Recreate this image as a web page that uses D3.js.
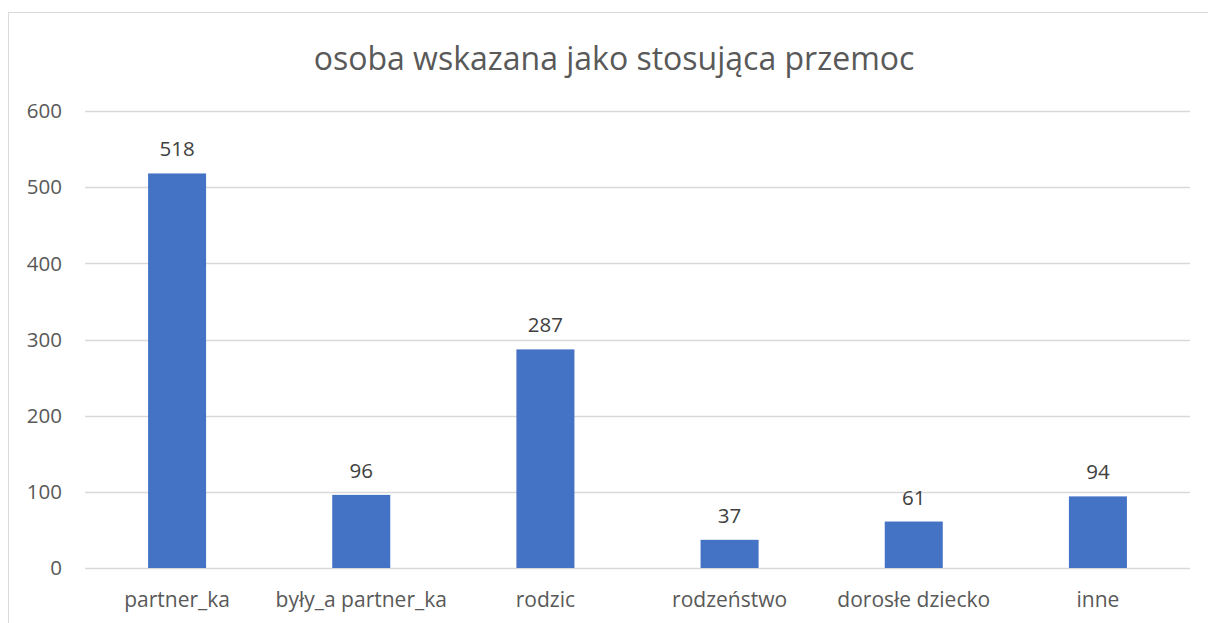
<!DOCTYPE html>
<html>
<head>
<meta charset="utf-8">
<script src="https://cdn.jsdelivr.net/npm/d3@7"></script>
<style>
  html, body { margin: 0; padding: 0; background: #fff; }
  svg { display: block; font-family: "Open Sans", "Noto Sans", sans-serif; }
</style>
</head>
<body>
<div id="chart"></div>
<script>
'use strict';

const CATEGORIES = ['partner_ka', 'były_a partner_ka', 'rodzic', 'rodzeństwo', 'dorosłe dziecko', 'inne'];
const VALUES = [518, 96, 287, 37, 61, 94];
const Y_TICKS = [0, 100, 200, 300, 400, 500, 600];
const TITLE = 'osoba wskazana jako stosująca przemoc';

const W = 1208, H = 623;
const margin = { left: 85, right: 18, top: 111, bottom: 55 };

const svg = d3.select('#chart').append('svg')
  .attr('width', W)
  .attr('height', H);

// chart frame
svg.append('rect')
  .attr('x', 8.5).attr('y', 12.5)
  .attr('width', W + 10).attr('height', H + 10)
  .attr('fill', 'none')
  .attr('stroke', '#d9d9d9')
  .attr('stroke-width', 1);

const x = d3.scaleBand()
  .domain(CATEGORIES)
  .range([margin.left, W - margin.right])
  .paddingInner(0.685)
  .paddingOuter(0.3425);

const y = d3.scaleLinear()
  .domain([0, 600])
  .range([H - margin.bottom, margin.top]);

// gridlines
svg.append('g')
  .selectAll('line')
  .data(Y_TICKS)
  .join('line')
  .attr('x1', margin.left)
  .attr('x2', W - margin.right)
  .attr('y1', d => Math.round(y(d)) + 0.5)
  .attr('y2', d => Math.round(y(d)) + 0.5)
  .attr('stroke', '#d9d9d9')
  .attr('stroke-width', 1.3);

// y tick labels
svg.append('g')
  .selectAll('text')
  .data(Y_TICKS)
  .join('text')
  .attr('x', 62)
  .attr('y', d => y(d))
  .attr('dy', '0.35em')
  .attr('text-anchor', 'end')
  .attr('fill', '#595959')
  .attr('font-size', '20.5px')
  .text(d => d);

// bars
svg.append('g')
  .selectAll('rect')
  .data(VALUES)
  .join('rect')
  .attr('x', (d, i) => x(CATEGORIES[i]))
  .attr('y', d => y(d))
  .attr('width', x.bandwidth())
  .attr('height', d => y(0) - y(d))
  .attr('fill', '#4472c4');

// data labels
svg.append('g')
  .selectAll('text')
  .data(VALUES)
  .join('text')
  .attr('x', (d, i) => x(CATEGORIES[i]) + x.bandwidth() / 2)
  .attr('y', d => y(d) - 17)
  .attr('text-anchor', 'middle')
  .attr('fill', '#404040')
  .attr('font-size', '20.5px')
  .text(d => d);

// category labels
svg.append('g')
  .selectAll('text')
  .data(CATEGORIES)
  .join('text')
  .attr('x', d => x(d) + x.bandwidth() / 2)
  .attr('y', 607)
  .attr('text-anchor', 'middle')
  .attr('fill', '#595959')
  .attr('font-size', '21px')
  .text(d => d);

// title
svg.append('text')
  .attr('x', 614)
  .attr('y', 70)
  .attr('text-anchor', 'middle')
  .attr('fill', '#595959')
  .attr('font-size', '32px')
  .text(TITLE);
</script>
</body>
</html>
